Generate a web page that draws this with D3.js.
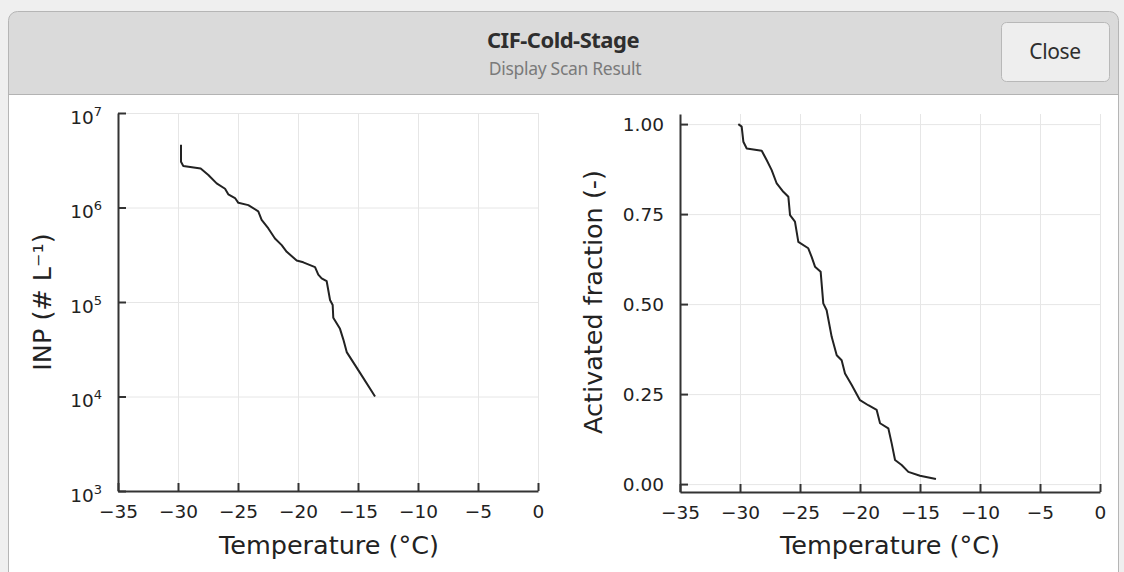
<!DOCTYPE html>
<html lang="en">
<head>
<meta charset="UTF-8"/>
<title>CIF-Cold-Stage</title>
<style>
  body { margin: 0; background: #efefef; }
  svg { display: block; }
  .tick text { font-family: "DejaVu Sans", sans-serif; fill: #222; }
  .grid line { stroke: #e6e6e6; stroke-width: 1; }
  .grid path { display: none; }
  .axis path, .axis line { stroke: #333; stroke-width: 2; }
</style>
</head>
<body>
<svg id="chart" width="1124" height="572"></svg>
<script src="https://d3js.org/d3.v7.min.js"></script>
<script>
// INP concentration vs temperature (left panel)
const inpTemp = [-29.75, -29.75, -29.56, -28.11, -27.47, -26.78, -26.08, -25.81, -25.25, -24.97,
  -24.14, -23.31, -23.03, -22.47, -21.92, -21.36, -20.94, -20.11, -19.56, -18.58,
  -18.31, -18.03, -17.61, -17.33, -17.11, -17.06, -16.5, -16.22, -15.94, -14.83, -13.58];
const inpValue = [4.6e6, 3.05e6, 2.75e6, 2.58e6, 2.21e6, 1.80e6, 1.58e6, 1.38e6, 1.26e6, 1.12e6,
  1.06e6, 9.1e5, 7.4e5, 6.0e5, 4.7e5, 4.0e5, 3.4e5, 2.75e5, 2.63e5, 2.34e5,
  1.95e5, 1.78e5, 1.66e5, 1.05e5, 9.3e4, 6.8e4, 5.2e4, 4.0e4, 2.95e4, 1.78e4, 1.0e4];

// activated fraction vs temperature (right panel)
const fracTemp = [-30.14, -29.86, -29.72, -29.44, -28.19, -27.78, -27.36, -26.94, -26.39, -25.97,
  -25.83, -25.42, -25.14, -24.31, -24.03, -23.75, -23.28, -23.06, -22.78, -22.36,
  -21.94, -21.53, -21.25, -20.69, -20.0, -19.31, -18.61, -18.33, -17.64, -17.36,
  -17.08, -16.53, -15.97, -15.0, -13.67];
const fracValue = [1.0, 0.993, 0.951, 0.932, 0.926, 0.90, 0.872, 0.835, 0.812, 0.798,
  0.747, 0.729, 0.673, 0.655, 0.631, 0.604, 0.590, 0.502, 0.483, 0.409,
  0.358, 0.344, 0.307, 0.275, 0.233, 0.219, 0.206, 0.169, 0.155, 0.113,
  0.067, 0.053, 0.034, 0.023, 0.014];

const tempTicks = [-35, -30, -25, -20, -15, -10, -5, 0];
const inpTicks = [1e3, 1e4, 1e5, 1e6, 1e7];
const fracTicks = [0, 0.25, 0.5, 0.75, 1.0];

const svg = d3.select('#chart');

// ---- window chrome ----
svg.append('rect').attr('x', 8.5).attr('y', 11.5).attr('width', 1110).attr('height', 600)
  .attr('rx', 9).attr('fill', '#dadada').attr('stroke', '#b5b5b5');
svg.append('line').attr('x1', 8).attr('x2', 1119).attr('y1', 94.5).attr('y2', 94.5)
  .attr('stroke', '#b3b3b3');
svg.append('rect').attr('x', 9).attr('y', 95).attr('width', 1109).attr('height', 480)
  .attr('fill', '#ffffff');

svg.append('text').attr('x', 563).attr('y', 48).attr('text-anchor', 'middle')
  .style('font-family', '"Noto Sans", sans-serif').style('font-weight', 700)
  .style('font-size', '22px').style('letter-spacing', '-0.5px').attr('fill', '#2e2e2e')
  .text('CIF-Cold-Stage');
svg.append('text').attr('x', 565).attr('y', 75).attr('text-anchor', 'middle')
  .style('font-family', '"Noto Sans", sans-serif')
  .style('font-size', '17.5px').style('letter-spacing', '-0.3px').attr('fill', '#7a7a7a')
  .text('Display Scan Result');

svg.append('rect').attr('x', 1001.5).attr('y', 22.5).attr('width', 108).attr('height', 59)
  .attr('rx', 5).attr('fill', '#eeeeee').attr('stroke', '#b8b8b8');
svg.append('text').attr('x', 1055).attr('y', 59).attr('text-anchor', 'middle')
  .style('font-family', '"Noto Sans", sans-serif')
  .style('font-size', '21px').style('letter-spacing', '-0.4px').attr('fill', '#2e2e2e')
  .text('Close');

// ---- helper to draw one panel ----
function panel(x, y, xTicks, yTicks, yFmt, xs, ys) {
  const g = svg.append('g');
  const [x0, x1] = x.range();
  const [y0, y1] = y.range();

  g.append('g').attr('class', 'grid').attr('transform', `translate(0,${y0})`)
    .call(d3.axisBottom(x).tickValues(xTicks.slice(1)).tickSize(-(y0 - y1)).tickFormat(''));
  g.append('g').attr('class', 'grid').attr('transform', `translate(${x0},0)`)
    .call(d3.axisLeft(y).tickValues(yTicks).tickSize(-(x1 - x0)).tickFormat(''));

  const line = d3.line().x((d, i) => x(xs[i])).y((d, i) => y(ys[i]));
  g.append('path').datum(xs).attr('d', line)
    .attr('fill', 'none').attr('stroke', '#222').attr('stroke-width', 2)
    .attr('stroke-linejoin', 'round');

  const xa = g.append('g').attr('class', 'axis').attr('transform', `translate(0,${y0})`)
    .call(d3.axisBottom(x).tickValues(xTicks).tickSize(-8).tickSizeOuter(0).tickPadding(14)
      .tickFormat(d => d < 0 ? '\u2212' + Math.abs(d) : d));
  xa.selectAll('text').style('font-size', '18.5px');

  const ya = g.append('g').attr('class', 'axis').attr('transform', `translate(${x0},0)`)
    .call(d3.axisLeft(y).tickValues(yTicks).tickSize(-8).tickSizeOuter(0).tickPadding(16)
      .tickFormat(yFmt));
  ya.selectAll('text').style('font-size', '18.5px');
  return ya;
}

// left panel
const xL = d3.scaleLinear().domain([-35, 0]).range([118, 538]);
const yL = d3.scaleLog().domain([1e3, 1e7]).range([491, 113]);
const yaL = panel(xL, yL, tempTicks, inpTicks, () => '', inpTemp, inpValue);
yaL.selectAll('.tick text').each(function (d) {
  const t = d3.select(this);
  t.append('tspan').text('10');
  t.append('tspan').attr('dy', '-0.6em').style('font-size', '13px').text(Math.round(Math.log10(d)));
}).attr('dy', '0.55em');

// right panel
const xR = d3.scaleLinear().domain([-35, 0]).range([680, 1100]);
const yR = d3.scaleLinear().domain([-0.022, 1.028]).range([492, 114]);
panel(xR, yR, tempTicks, fracTicks, d3.format('.2f'), fracTemp, fracValue);

// axis titles
const labelFont = '"DejaVu Sans", sans-serif';
svg.append('text').attr('x', 329).attr('y', 554).attr('text-anchor', 'middle')
  .style('font-family', labelFont).style('font-size', '25.5px').attr('fill', '#222')
  .text('Temperature (°C)');
svg.append('text').attr('x', 890).attr('y', 554).attr('text-anchor', 'middle')
  .style('font-family', labelFont).style('font-size', '25.5px').attr('fill', '#222')
  .text('Temperature (°C)');
svg.append('text').attr('transform', 'translate(51,302) rotate(-90)').attr('text-anchor', 'middle')
  .style('font-family', labelFont).style('font-size', '25.5px').attr('fill', '#222')
  .text('INP (# L\u207B\u00B9)');
svg.append('text').attr('transform', 'translate(602,302) rotate(-90)').attr('text-anchor', 'middle')
  .style('font-family', labelFont).style('font-size', '25.5px').attr('fill', '#222')
  .text('Activated fraction (-)');
</script>
</body>
</html>
